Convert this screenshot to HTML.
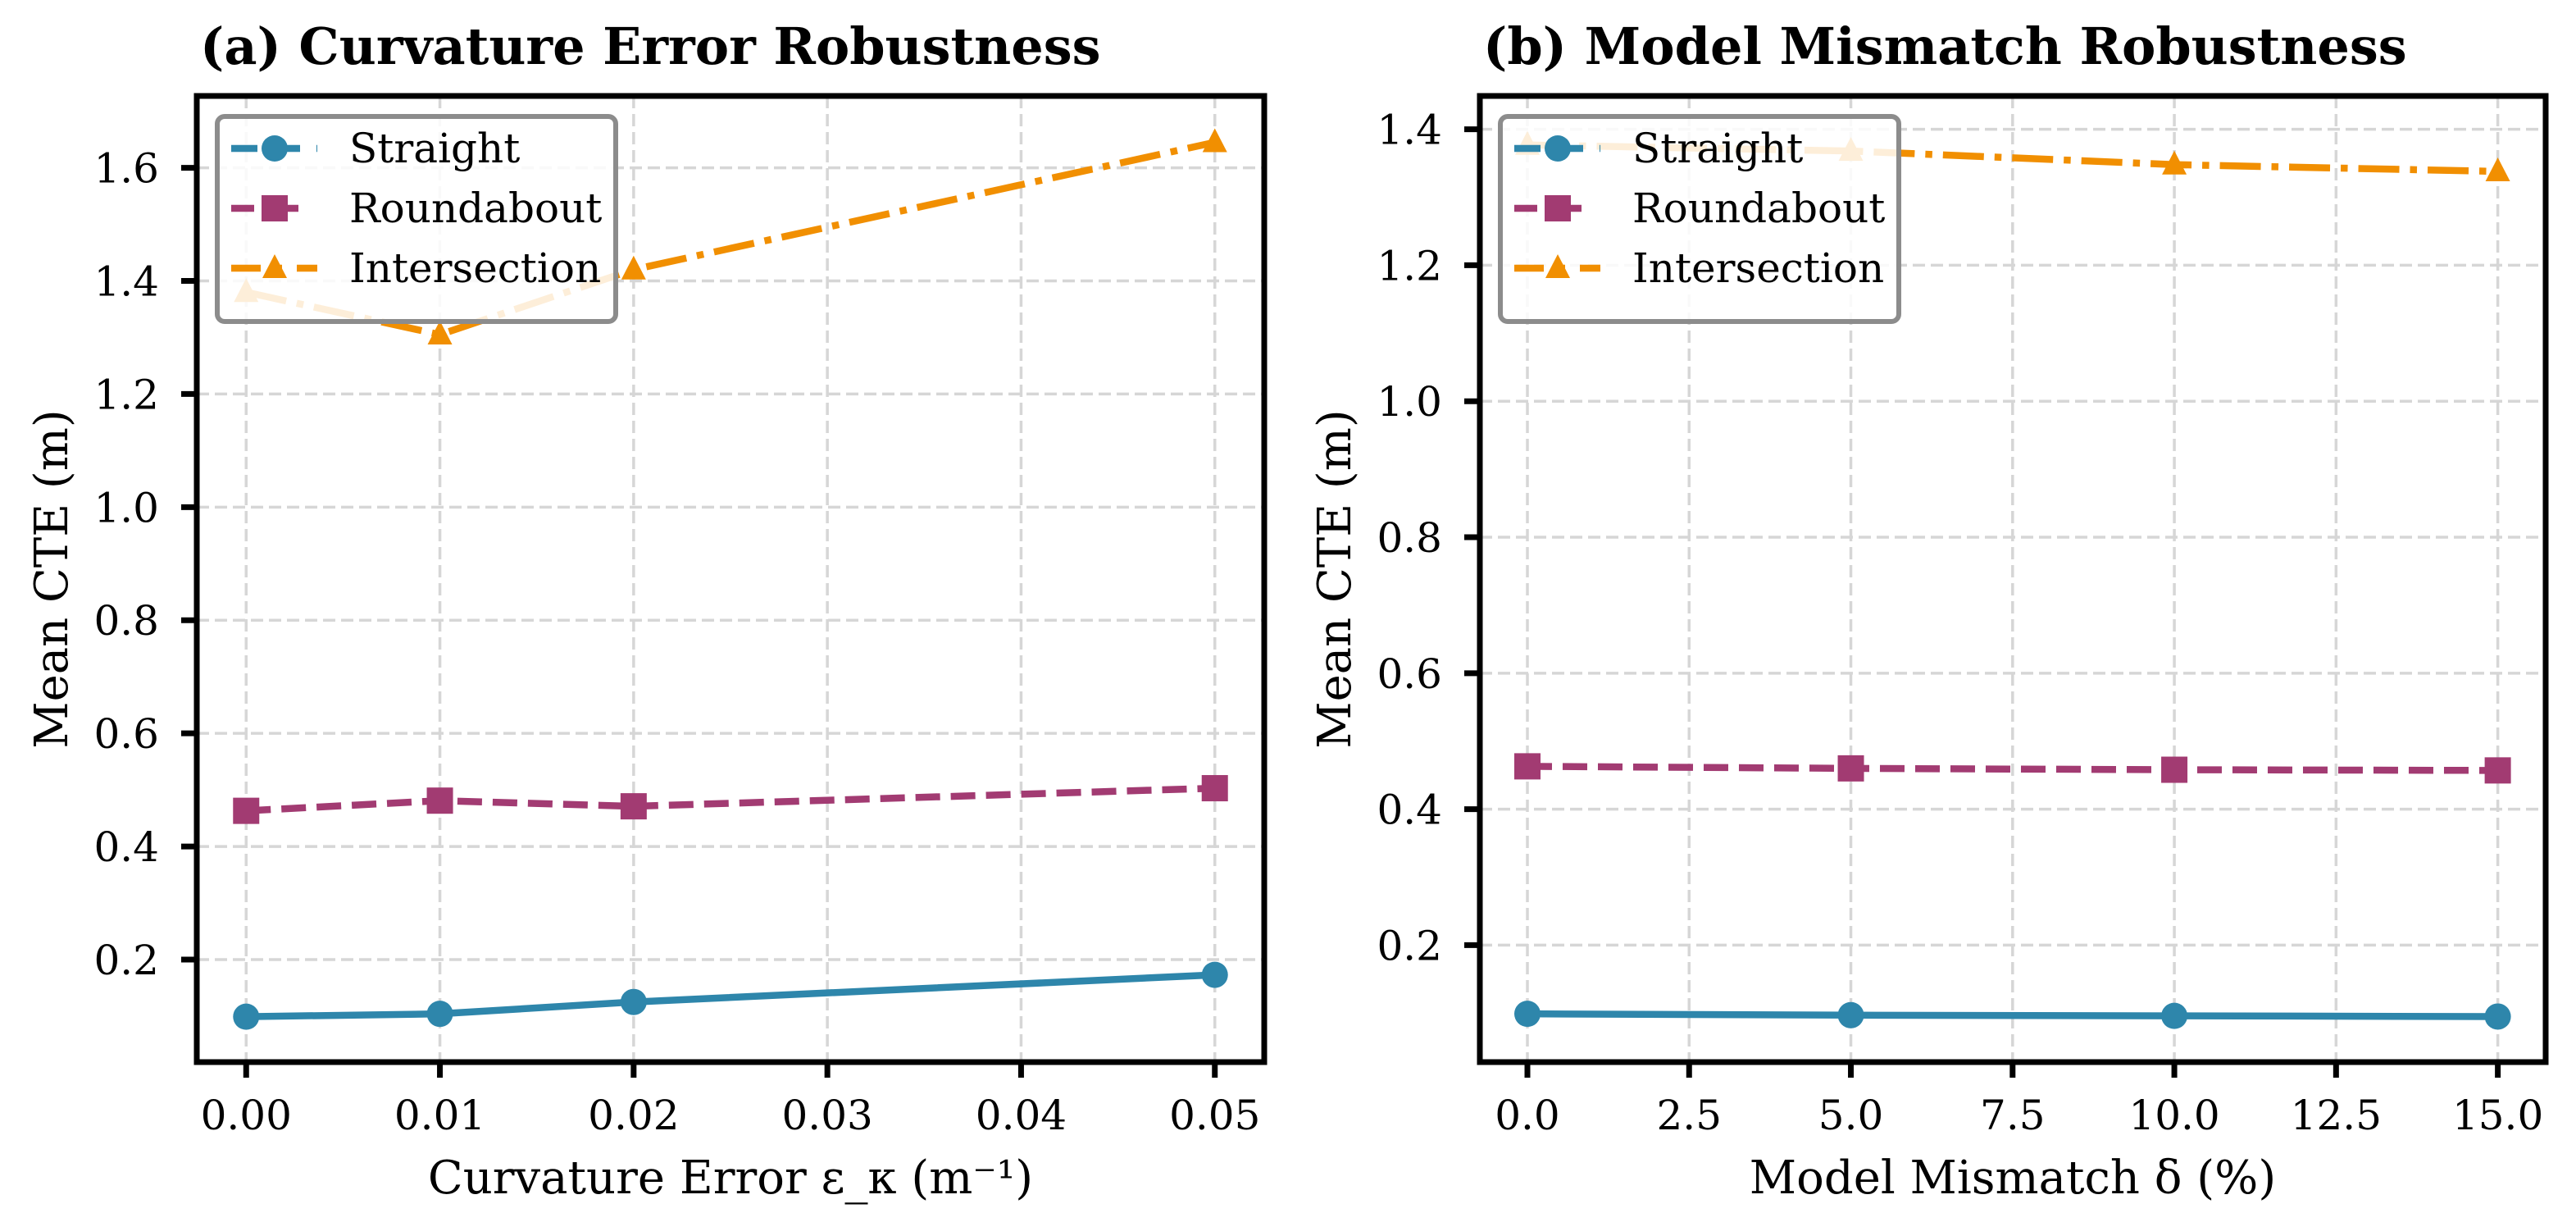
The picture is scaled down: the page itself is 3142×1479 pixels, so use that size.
<!DOCTYPE html>
<html><head><meta charset="utf-8"><style>
html,body{margin:0;padding:0;background:#fff}
svg{display:block}
text{font-family:"DejaVu Serif","Liberation Serif",serif;fill:#000}
</style></head><body>
<svg id="fig" width="3142" height="1479" viewBox="0 0 3142 1479" xmlns="http://www.w3.org/2000/svg"></svg>
<script>
// Panel (a) data
const aX = [0.00, 0.01, 0.02, 0.05];
const aStraight = [0.099, 0.104, 0.125, 0.173];
const aRoundabout = [0.463, 0.481, 0.471, 0.503];
const aIntersection = [1.380, 1.305, 1.420, 1.645];
const aXTicks = [0, 0.01, 0.02, 0.03, 0.04, 0.05];
const aXTickLabels = ["0.00","0.01","0.02","0.03","0.04","0.05"];
const aYTicks = [0.2,0.4,0.6,0.8,1.0,1.2,1.4,1.6];
const aYTickLabels = ["0.2","0.4","0.6","0.8","1.0","1.2","1.4","1.6"];
// Panel (b) data
const bX = [0, 5, 10, 15];
const bStraight = [0.099, 0.097, 0.096, 0.095];
const bRoundabout = [0.463, 0.460, 0.458, 0.457];
const bIntersection = [1.377, 1.368, 1.348, 1.338];
const bXTicks = [0, 2.5, 5, 7.5, 10, 12.5, 15];
const bXTickLabels = ["0.0","2.5","5.0","7.5","10.0","12.5","15.0"];
const bYTicks = [0.2,0.4,0.6,0.8,1.0,1.2,1.4];
const bYTickLabels = ["0.2","0.4","0.6","0.8","1.0","1.2","1.4"];
const seriesNames = ["Straight","Roundabout","Intersection"];

const NS = "http://www.w3.org/2000/svg";
const svg = document.getElementById('fig');
const COLORS = ["#2E86AB","#A23B72","#F18F01"];
const DASH = ["", "30,13", "50,13,8.5,13"];
const LW = 8.5;

function mk(tag, attrs, parent, txt){
  const e = document.createElementNS(NS, tag);
  for (const k in attrs) e.setAttribute(k, attrs[k]);
  if (txt !== undefined) e.textContent = txt;
  (parent || svg).appendChild(e);
  return e;
}

function marker(g, type, cx, cy, color){
  let m;
  if (type === 0) m = mk('circle', {cx:cx, cy:cy, r:16, fill:color}, g);
  else if (type === 1) m = mk('rect', {x:cx-16, y:cy-16, width:32, height:32, fill:color}, g);
  else m = mk('polygon', {points:`${cx},${cy-17} ${cx+15},${cy+12} ${cx-15},${cy+12}`, fill:color}, g);
  return m;
}

function panel(cfg){
  const {L,R,T,B,xmin,xmax,ymin,ymax,xs,series,xt,xtl,yt,ytl,title,xlabel,id} = cfg;
  const sx = v => L + (v - xmin) / (xmax - xmin) * (R - L);
  const sy = v => B - (v - ymin) / (ymax - ymin) * (B - T);
  const g = mk('g', {}, svg);
  
  
  const grid = mk('g', {}, g);
  
  
  xt.forEach(v => mk('line', {x1:sx(v), x2:sx(v), y1:T, y2:B, stroke:'#d6d6d6', 'stroke-width':3.5, 'stroke-dasharray':'15,7'}, grid));
  yt.forEach(v => mk('line', {x1:L, x2:R, y1:sy(v), y2:sy(v), stroke:'#d6d6d6', 'stroke-width':3.5, 'stroke-dasharray':'15,7'}, grid));
  series.forEach((vals, i) => {
    const sg = mk('g', {}, g);
    
    
    const pts = xs.map((x, j) => sx(x) + ',' + sy(vals[j])).join(' ');
    const pl = mk('polyline', {points:pts, fill:'none', stroke:COLORS[i], 'stroke-width':LW, 'stroke-dasharray':DASH[i] || 'none'}, sg);
    
    
    xs.forEach((x, j) => {
      const m = marker(sg, i, sx(x), sy(vals[j]), COLORS[i]);
      
      
    });
  });
  const lg = mk('g', {}, g);
  
  
  const lx = L + 25, ly = T + 25;
  mk('rect', {x:lx, y:ly, width:486, height:250, rx:9, fill:'#fff', 'fill-opacity':0.85, stroke:'#8c8c8c', 'stroke-width':6}, lg);
  seriesNames.forEach((n, i) => {
    const ey = ly + 39 + i * 73;
    const e = mk('g', {}, lg);
    
    
    mk('line', {x1:lx+17, x2:lx+122, y1:ey, y2:ey, stroke:COLORS[i], 'stroke-width':LW, 'stroke-dasharray':i===0?'32,20':(i===1?'28,26':'36,18,8,18')}, e);
    marker(e, i, lx+70, ey, COLORS[i]);
    mk('text', {x:lx+161, y:ey+17, 'font-size':50}, e, n);
  });
  const sp = mk('rect', {x:L, y:T, width:R-L, height:B-T, fill:'none', stroke:'#000', 'stroke-width':7}, g);
  
  
  const xa = mk('g', {}, g);
  
  
  xt.forEach((v, k) => {
    mk('line', {x1:sx(v), x2:sx(v), y1:B, y2:B+19, stroke:'#000', 'stroke-width':7}, xa);
    mk('text', {x:sx(v), y:B+82, 'font-size':50, 'text-anchor':'middle'}, xa, xtl[k]);
  });
  const ya = mk('g', {}, g);
  
  
  yt.forEach((v, k) => {
    mk('line', {x1:L-19, x2:L, y1:sy(v), y2:sy(v), stroke:'#000', 'stroke-width':7}, ya);
    mk('text', {x:L-46, y:sy(v)+18, 'font-size':50, 'text-anchor':'end'}, ya, ytl[k]);
  });
  const t = mk('text', {x:L+4, y:78, 'font-size':62, 'font-weight':'bold'}, g, title);
  
  
  const xl = mk('text', {x:(L+R)/2, y:1455, 'font-size':56, 'text-anchor':'middle'}, g, xlabel);
  
  
  const yx = L - 158, yy = (T+B)/2;
  const yl = mk('text', {x:yx, y:yy, 'font-size':56, 'text-anchor':'middle', transform:`rotate(-90 ${yx} ${yy})`}, g, 'Mean CTE (m)');
  
  
}

panel({id:'a', L:240, R:1542, T:117, B:1295, xmin:-0.00255, xmax:0.05255, ymin:0.0187, ymax:1.727,
  xs:aX, series:[aStraight, aRoundabout, aIntersection], xt:aXTicks, xtl:aXTickLabels, yt:aYTicks, ytl:aYTickLabels,
  title:'(a) Curvature Error Robustness', xlabel:'Curvature Error ε_κ (m⁻¹)'});
panel({id:'b', L:1805, R:3105, T:117, B:1295, xmin:-0.735, xmax:15.74, ymin:0.028, ymax:1.449,
  xs:bX, series:[bStraight, bRoundabout, bIntersection], xt:bXTicks, xtl:bXTickLabels, yt:bYTicks, ytl:bYTickLabels,
  title:'(b) Model Mismatch Robustness', xlabel:'Model Mismatch δ (%)'});
</script>
</body></html>
